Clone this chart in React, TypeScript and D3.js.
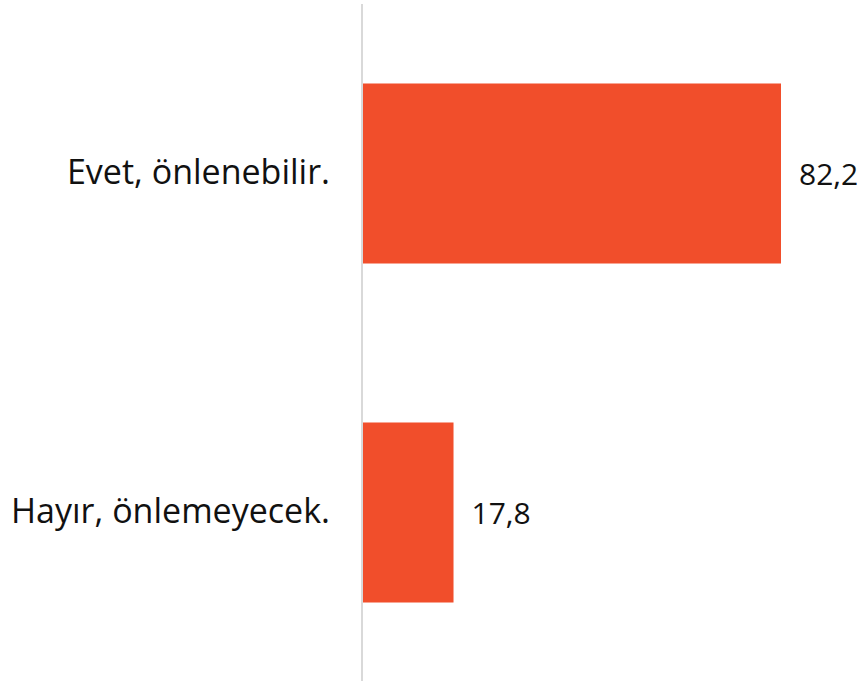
import React from "react";
import * as d3 from "d3";

const categories = ["Evet, önlenebilir.", "Hayır, önlemeyecek."];
const values = [82.2, 17.8];
const valueLabels = ["82,2", "17,8"];

const W = 866;
const H = 686;

export default function App() {
  const x = d3.scaleLinear().domain([0, 82.2]).range([363, 781]);
  const y = d3
    .scaleBand<string>()
    .domain(categories)
    .range([4, 682])
    .paddingInner(0.469)
    .paddingOuter(0.2345);
  const font = "'Open Sans', 'Noto Sans', sans-serif";
  return (
    <svg
      width={W}
      height={H}
      style={{ position: "absolute", left: 0, top: 0, background: "#fff" }}
    >
      {categories.map((c, i) => {
        const yy = y(c)!;
        const bw = y.bandwidth();
        return (
          <g key={c}>
            <rect
              x={x(0)}
              y={yy}
              width={x(values[i]) - x(0)}
              height={bw}
              fill="#F14E2B"
            />
            <text
              x={330}
              y={yy + bw / 2 + 10}
              textAnchor="end"
              fontFamily={font}
              fontSize={34}
              fill="#111"
            >
              {c}
            </text>
            <text
              x={x(values[i]) + 18}
              y={yy + bw / 2 + 11}
              textAnchor="start"
              fontFamily={font}
              fontSize={30}
              fill="#111"
            >
              {valueLabels[i]}
            </text>
          </g>
        );
      })}
      <line x1={362} x2={362} y1={4} y2={681} stroke="#d9d9d9" strokeWidth={2} />
    </svg>
  );
}
